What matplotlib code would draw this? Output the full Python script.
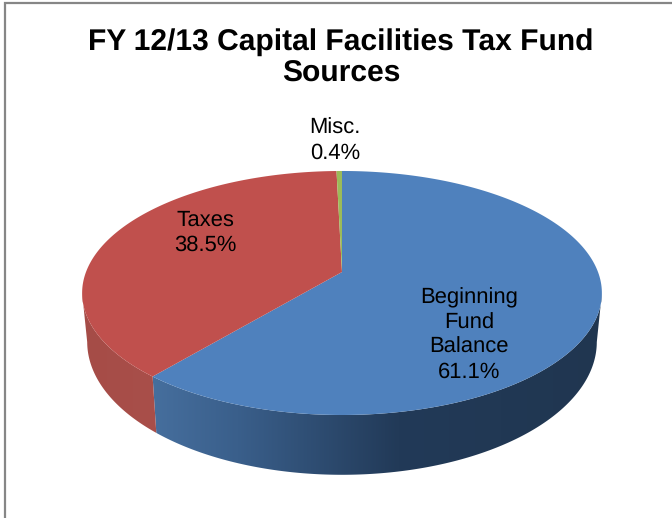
import numpy as np
import matplotlib
matplotlib.use("Agg")
import matplotlib.pyplot as plt
from matplotlib.patches import Polygon
from matplotlib.colors import LinearSegmentedColormap

plt.rcParams['font.family'] = ['Liberation Sans', 'DejaVu Sans']
plt.rcParams['text.hinting'] = 'none'
plt.rcParams['text.hinting_factor'] = 1

title = "FY 12/13 Capital Facilities Tax Fund\nSources"
categories = ["Beginning\nFund\nBalance", "Taxes", "Misc."]
shares = [61.1, 38.5, 0.4]
top_colors = ["#4F81BD", "#C0504D", "#9BBB59"]
label_centres = [(469, 335), (205, 232.5), (335, 140.5)]

W, H = 672, 518
fig = plt.figure(figsize=(W / 100, H / 100), dpi=100)
ax = fig.add_axes([0, 0, 1, 1])
ax.set_xlim(0, W)
ax.set_ylim(H, 0)
ax.axis("off")

CX = 342.0
TILT = 0.172


def rim(clock_deg, y0, rx, ry):
    """Perspective projection of a circle, angles clockwise from the far side."""
    t = np.radians(clock_deg)
    u, v = np.sin(t), np.cos(t)
    w = 1 + TILT * v
    return np.column_stack([CX + rx * u / w, y0 - ry * v / w])


TOP = dict(y0=272.0, rx=256.0, ry=118.4)
BOTTOM = dict(y0=319.0, rx=251.0, ry=129.0)

# outer frame of the chart area
ax.plot([5, 5, W + 5], [H + 5, 3, 3], color="#868686", lw=1.6, solid_joinstyle="miter")


def side_wall(a0, a1, stops, x0, x1):
    angles = np.linspace(a0, a1, 200)
    outline = np.vstack([rim(angles, **TOP), rim(angles[::-1], **BOTTOM)])
    poly = Polygon(outline, closed=True, fc="none", ec="none", transform=ax.transData)
    ax.add_patch(poly)
    cmap = LinearSegmentedColormap.from_list("wall", stops)
    ramp = np.linspace(0, 1, 256)[None, :]
    img = ax.imshow(ramp, cmap=cmap, extent=[x0, x1, 480, 170], aspect="auto",
                    interpolation="bilinear", zorder=2)
    img.set_clip_path(poly)


ends = np.cumsum(shares) / 100 * 360
starts = np.concatenate([[0], ends[:-1]])

# walls visible along the near edge
side_wall(100, ends[0], [(0.0, "#203650"), (0.45, "#223A58"), (0.8, "#3A5F8B"), (1.0, "#47709F")], 605, 145)
side_wall(ends[0], 260, [(0.0, "#A94F4A"), (1.0, "#A54C47")], 160, 80)

# top face
for a0, a1, colour in zip(starts, ends, top_colors):
    angles = np.linspace(a0, a1, 240)
    face = np.vstack([[CX, TOP["y0"]], rim(angles, **TOP)])
    ax.add_patch(Polygon(face, closed=True, fc=colour, ec="none", zorder=3))

for name, share, (x, y) in zip(categories, shares, label_centres):
    ax.text(x, y, f"{name}\n{share}%", ha="center", va="center", fontsize=15.6,
            linespacing=1.26, color="black", zorder=5)

ax.text(341, 58, title, ha="center", va="center", fontsize=21.4, fontweight="bold",
        linespacing=1.16, color="black", zorder=5)

ax.set_xlim(0, W)
ax.set_ylim(H, 0)
fig.savefig("out.png", dpi=100, facecolor="white")
